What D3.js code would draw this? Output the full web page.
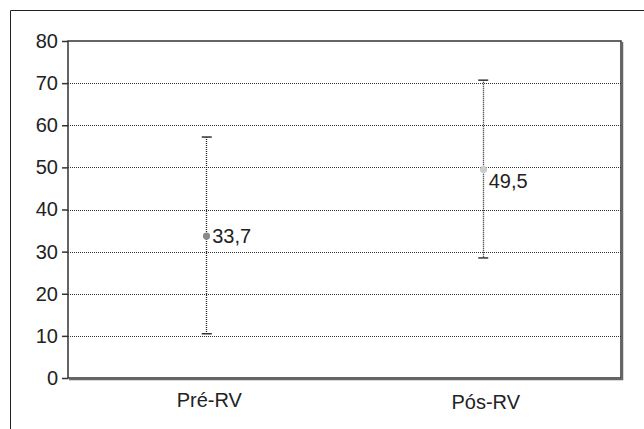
<!DOCTYPE html>
<html>
<head>
<meta charset="utf-8">
<script src="https://cdn.jsdelivr.net/npm/d3@7"></script>
<style>
  body { margin: 0; background: #fff; }
  text { font-family: "Liberation Sans", Arial, sans-serif; fill: #222; }
</style>
</head>
<body>
<div id="plot"></div>
<script>
// data
var groups = ["Pré-RV", "Pós-RV"];
var means = [33.7, 49.5];
var upper = [57.2, 70.7];
var lower = [10.5, 28.5];
var meanLabels = ["33,7", "49,5"];
var markerColors = ["#8a8a8a", "#cccccc"];
var yTicks = [0, 10, 20, 30, 40, 50, 60, 70, 80];

var W = 644, H = 429;
var margin = {top: 41, right: 23, bottom: 51, left: 68};

var svg = d3.select("div#plot").append("svg")
    .attr("width", W)
    .attr("height", H);

// outer frame (open on right/bottom, cut by the picture)
svg.append("path")
    .attr("d", "M10.5," + H + "V10.5H" + W)
    .attr("fill", "none")
    .attr("stroke", "#222")
    .attr("stroke-width", 1);

var x = d3.scalePoint()
    .domain(groups)
    .range([margin.left, W - margin.right])
    .padding(0.5);

var y = d3.scaleLinear()
    .domain([0, 80])
    .range([H - margin.bottom, margin.top]);

// dotted grid
svg.selectAll(".grid")
    .data(yTicks.filter(d => d > 0 && d < 80))
    .enter().append("line")
    .attr("x1", margin.left)
    .attr("x2", W - margin.right)
    .attr("y1", d => Math.round(y(d)) + 0.5)
    .attr("y2", d => Math.round(y(d)) + 0.5)
    .attr("stroke", "#333")
    .attr("stroke-width", 1)
    .attr("stroke-dasharray", "1,1");

// plot box, right and bottom edge a bit heavier
svg.append("rect")
    .attr("x", margin.left)
    .attr("y", margin.top)
    .attr("width", W - margin.right - margin.left)
    .attr("height", H - margin.bottom - margin.top)
    .attr("fill", "none")
    .attr("stroke", "#333")
    .attr("stroke-width", 1.5);

svg.append("path")
    .attr("d", "M" + (W - margin.right + 1.5) + "," + (margin.top + 1) +
               "V" + (H - margin.bottom + 1.5) + "H" + (margin.left + 1))
    .attr("fill", "none")
    .attr("stroke", "#666")
    .attr("stroke-width", 1.5);

// y axis
var yAxis = svg.append("g")
    .attr("transform", "translate(" + margin.left + ",0)")
    .call(d3.axisLeft(y).tickValues(yTicks).tickSize(6).tickPadding(4));
yAxis.select(".domain").remove();
yAxis.selectAll("line").attr("stroke", "#333").attr("stroke-width", 1.5);
yAxis.selectAll("text")
    .style("font-size", "20px")
    .style("font-family", "'Liberation Sans', Arial, sans-serif")
    .attr("fill", "#222");

// category labels
svg.selectAll(".xlab")
    .data(groups)
    .enter().append("text")
    .attr("x", d => x(d) + 3)
    .attr("y", (d, i) => 407 + i * 1.5)
    .attr("text-anchor", "middle")
    .style("font-size", "20px")
    .text(d => d);

// error bars
var bars = svg.selectAll(".err")
    .data(groups)
    .enter().append("g");

bars.append("line")
    .attr("x1", d => Math.round(x(d)) + 0.5)
    .attr("x2", d => Math.round(x(d)) + 0.5)
    .attr("y1", (d, i) => y(upper[i]))
    .attr("y2", (d, i) => y(lower[i]))
    .attr("stroke", "#222")
    .attr("stroke-width", 1.3)
    .attr("stroke-dasharray", "1,1");

[upper, lower].forEach(function(arr) {
  bars.append("line")
      .attr("x1", d => x(d) - 4.5)
      .attr("x2", d => x(d) + 5.5)
      .attr("y1", (d, i) => y(arr[i]))
      .attr("y2", (d, i) => y(arr[i]))
      .attr("stroke", "#333")
      .attr("stroke-width", 1.5);
});

bars.append("circle")
    .attr("cx", d => Math.round(x(d)) + 0.5)
    .attr("cy", (d, i) => y(means[i]))
    .attr("r", 3.6)
    .attr("fill", (d, i) => markerColors[i]);

// mean labels (second one sits below its marker)
var labelDy = [0, 12];
bars.append("text")
    .attr("x", d => x(d) + 6)
    .attr("y", (d, i) => y(means[i]) + labelDy[i])
    .attr("dy", "0.35em")
    .style("font-size", "20px")
    .text((d, i) => meanLabels[i]);
</script>
</body>
</html>
